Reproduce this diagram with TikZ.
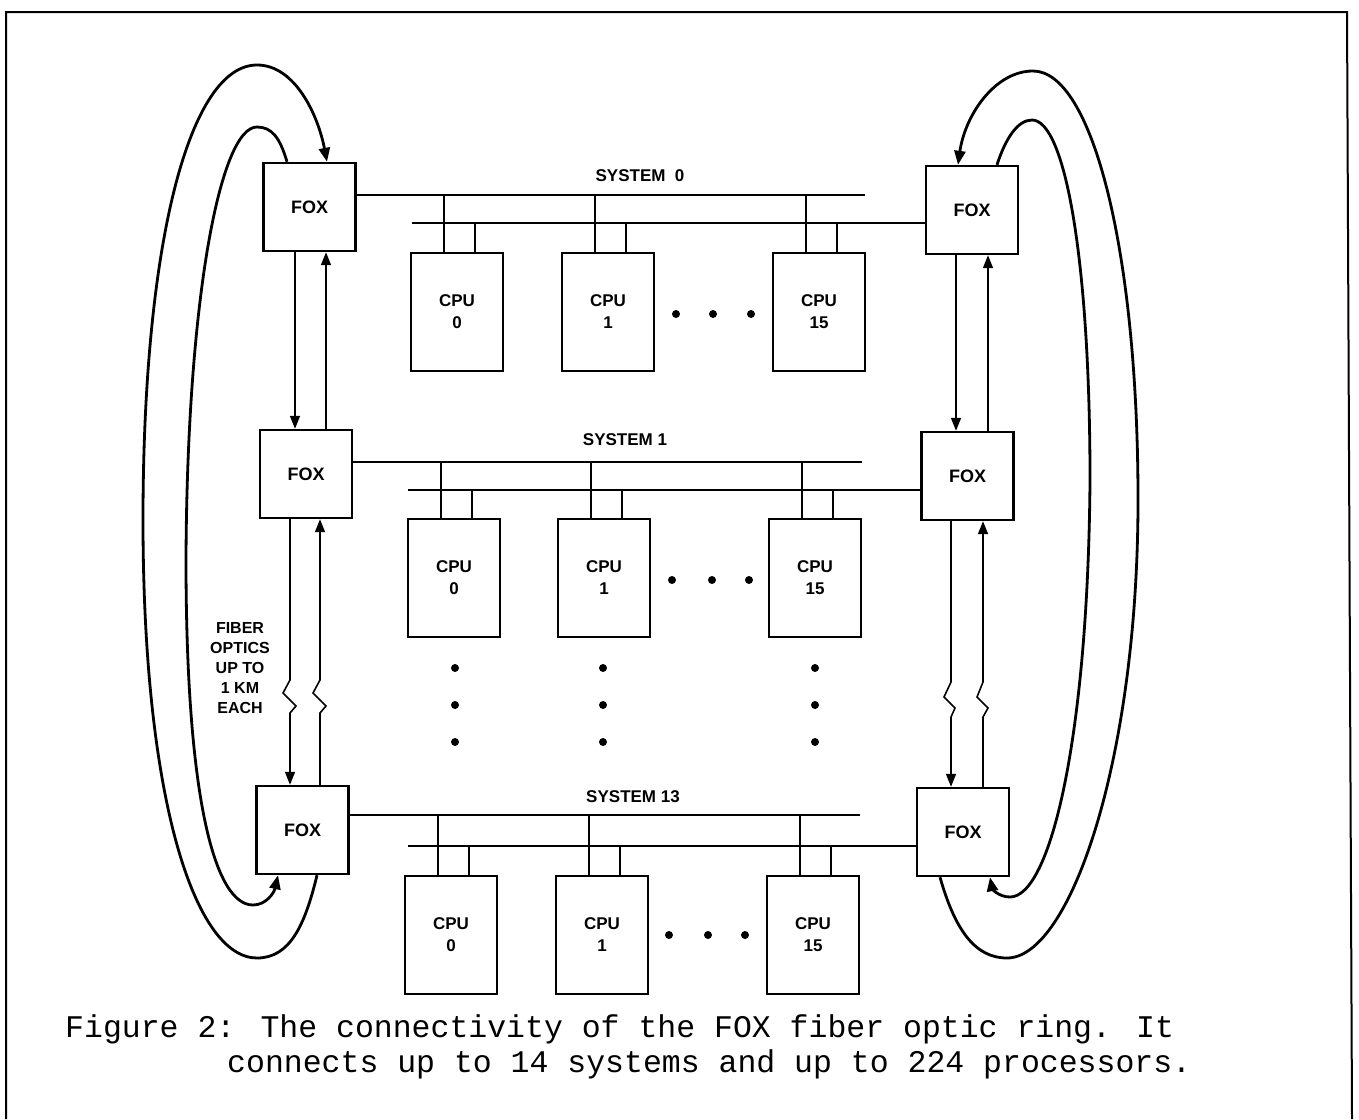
\documentclass[tikz,border=0pt]{standalone}
\usepackage{fontspec}
\setmainfont{Liberation Sans}
\newfontfamily\capfont{Liberation Mono}
\usetikzlibrary{arrows.meta,calc}
\begin{document}
\begin{tikzpicture}[x=1pt,y=-1pt,
  box/.style={draw, line width=2.4pt, inner sep=0pt, font=\bfseries\fontsize{18}{20}\selectfont},
  fox/.style={box, minimum width=92pt, minimum height=88pt},
  cpu/.style={box, minimum width=92pt, minimum height=118pt, align=center, font=\bfseries\fontsize{17}{22}\selectfont},
  bus/.style={line width=1.6pt},
  arr/.style={line width=1.6pt, -{Triangle[length=13pt,width=10pt]}},
  ring/.style={line width=2.8pt},
  ringarr/.style={ring, -{Triangle[length=14pt,width=11pt]}},
  lbl/.style={font=\bfseries\fontsize{17}{20}\selectfont, inner sep=0pt},
  dot/.style={circle, fill, inner sep=0pt, minimum size=8pt},
]
\useasboundingbox (0,0) rectangle (1359,1119);
% frame
\draw[line width=2pt] (6,1119) -- (6,12) -- (1347,12) -- (1352,1119);

% FOX boxes
\node[fox] (LF0) at (309.5,207) {FOX};
\node[fox] (LF1) at (306,474) {FOX};
\node[fox] (LF2) at (302.5,830) {FOX};
\node[fox] (RF0) at (972,210) {FOX};
\node[fox] (RF1) at (967.5,476) {FOX};
\node[fox] (RF2) at (963,832) {FOX};

% CPU boxes
\foreach \r/\cy/\xa/\xb/\xc in {0/312/457/608/819, 1/578/454/604/815, 2/935/451/602/813} {
  \node[cpu] (c\r a) at (\xa,\cy) {CPU\\0};
  \node[cpu] (c\r b) at (\xb,\cy) {CPU\\1};
  \node[cpu] (c\r c) at (\xc,\cy) {CPU\\15};
}

% system labels
\node[lbl] (s0) at (640,176) {SYSTEM\hspace{0.55em}0};
\node[lbl] (s1) at (625,440) {SYSTEM 1};
\node[lbl] (s2) at (633,797) {SYSTEM 13};

% buses
\coordinate (u0) at (865,195); \coordinate (l0) at (412,223);
\coordinate (u1) at (862,462); \coordinate (l1) at (408,490);
\coordinate (u2) at (860,815); \coordinate (l2) at (408,846);
\draw[bus] (LF0.east |- u0) -- (u0);
\draw[bus] (l0) -- (RF0.west |- l0);
\draw[bus] (LF1.east |- u1) -- (u1);
\draw[bus] (l1) -- (RF1.west |- l1);
\draw[bus] (LF2.east |- u2) -- (u2);
\draw[bus] (l2) -- (RF2.west |- l2);

% taps
\foreach \r in {0,1,2} \foreach \cc in {a,b,c} {
  \path ($(c\r\cc.north)+(-13,0)$) coordinate (tu) ($(c\r\cc.north)+(18,0)$) coordinate (tl);
  \draw[bus] (tu) -- (tu |- u\r);
  \draw[bus] (tl) -- (tl |- l\r);
}

% dots
\foreach \x/\y [count=\i] in {676/314, 713/314, 751/314, 672/580, 712/580, 749/580, 669/935, 708/935, 745/935,
  455/668, 455/705, 455/742, 603/668, 603/705, 603/742, 815/668, 815/705, 815/742}
  \node[dot] (d\i) at (\x,\y) {};

% vertical links
\coordinate (xa) at (295,0); \coordinate (xb) at (326,0);
\coordinate (xc) at (290,0); \coordinate (xd) at (320,0);
\coordinate (xe) at (956,0); \coordinate (xf) at (988,0);
\coordinate (xg) at (951,0); \coordinate (xh) at (983,0);
\draw[arr] (LF0.south -| xa) -- (LF1.north -| xa);
\draw[arr] (LF1.north -| xb) -- (LF0.south -| xb);
\draw[arr] (LF1.south -| xc) -- (290,680) -- (283,693) -- (296,706) -- (290,713) -- (LF2.north -| xc);
\draw[arr] (LF2.north -| xd) -- (320,713) -- (326,706) -- (313,693) -- (320,680) -- (LF1.south -| xd);
\draw[arr] (RF0.south -| xe) -- (RF1.north -| xe);
\draw[arr] (RF1.north -| xf) -- (RF0.south -| xf);
\draw[arr] (RF1.south -| xg) -- (951,682) -- (944,697) -- (955,708) -- (951,717) -- (RF2.north -| xg);
\draw[arr] (RF2.north -| xh) -- (983,717) -- (988,708) -- (977,697) -- (983,682) -- (RF1.south -| xh);

\node[font=\bfseries\fontsize{16}{20}\selectfont, align=center, inner sep=0pt] (fib) at (240,668) {FIBER\\OPTICS\\UP TO\\1 KM\\EACH};

% ring loops
\path ([xshift=14.5pt]LF2.south) coordinate (loS) ([xshift=17.5pt]LF0.north) coordinate (loE)
      ([xshift=-22.5pt]LF0.north) coordinate (liS) ([xshift=-24.5pt]LF2.south) coordinate (liE)
      ([xshift=-23pt]RF2.south) coordinate (roS) ([xshift=-14pt]RF0.north) coordinate (roE)
      ([xshift=25pt]RF0.north) coordinate (riS) ([xshift=27pt]RF2.south) coordinate (riE);
\draw[ringarr] (loS) .. controls (305,925) and (290,958) .. (257,958)
  .. controls (195,958) and (143,800) .. (143,520)
  .. controls (143,240) and (190,65) .. (257,65)
  .. controls (295,65) and (318,115) .. (loE);
\draw[ringarr] (liS) .. controls (280,138) and (272,127) .. (257,127)
  .. controls (220,127) and (187,300) .. (186,560)
  .. controls (186,800) and (215,905) .. (253,905)
  .. controls (266,905) and (274,893) .. (liE);
\draw[ringarr] (roS) .. controls (955,930) and (975,958) .. (1007,958)
  .. controls (1070,958) and (1138,760) .. (1138,500)
  .. controls (1138,250) and (1092,71) .. (1033,71)
  .. controls (995,71) and (965,115) .. (roE);
\draw[ringarr] (riS) .. controls (1005,140) and (1017,120) .. (1032,120)
  .. controls (1065,120) and (1090,260) .. (1090,480)
  .. controls (1088,740) and (1050,897) .. (1010,897)
  .. controls (998,897) and (992,888) .. (riE);

% caption
\node[anchor=base west, inner sep=0pt, font=\capfont\fontsize{31.5}{35}\selectfont] (cap1) at (65,1037) {Figure 2: The connectivity of the FOX fiber optic ring. It};
\node[anchor=base west, inner sep=0pt, font=\capfont\fontsize{31.5}{35}\selectfont] (cap2) at (227,1072) {connects up to 14 systems and up to 224 processors.};
\end{tikzpicture}
\end{document}
